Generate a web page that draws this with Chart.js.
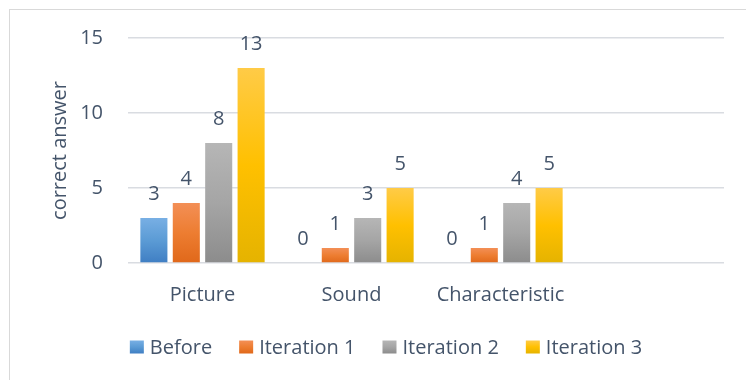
<!DOCTYPE html>
<html>
<head>
<meta charset="utf-8">
<script src="https://cdn.jsdelivr.net/npm/chart.js@4.4.1/dist/chart.umd.min.js"></script>
<style>
  html, body { margin: 0; padding: 0; background: #fff; overflow: hidden; }
  #wrap { position: relative; width: 746px; height: 380px; }
  #frame { position: absolute; left: 9px; top: 9px; width: 1000px; height: 1000px; border: 1px solid #D9D9D9; }
  canvas { position: absolute; left: 0; top: 0; }
</style>
</head>
<body>
<div id="wrap">
  <div id="frame"></div>
  <canvas id="chart" width="746" height="380"></canvas>
</div>
<script>
// Categories (the fourth slot is left blank on purpose)
const categories = ['Picture', 'Sound', 'Characteristic', ''];

// Correct answers per stage
const before     = [3, 0, 0, null];
const iteration1 = [4, 1, 1, null];
const iteration2 = [8, 3, 4, null];
const iteration3 = [13, 5, 5, null];

const seriesNames = ['Before', 'Iteration 1', 'Iteration 2', 'Iteration 3'];
const yTicks = [0, 5, 10, 15];

const TEXT = '#44546A';
const FONT = "'Open Sans', 'Noto Sans', sans-serif";

// light / base / dark stops for each series' vertical gradient
const palettes = [
  ['#78AFE4', '#5B9BD5', '#3F7EC3'],
  ['#F38F56', '#ED7D31', '#E0681A'],
  ['#B6B6B6', '#A5A5A5', '#8C8C8C'],
  ['#FFCB47', '#FFC000', '#E5B300']
];

function makeGradient(c, idx, top, bottom) {
  const [light, base, dark] = palettes[idx];
  const g = c.createLinearGradient(0, top, 0, bottom);
  g.addColorStop(0, light);
  g.addColorStop(0.5, base);
  g.addColorStop(1, dark);
  return g;
}

function gradientFill(idx) {
  const base = palettes[idx][1];
  return (ctx) => {
    if (ctx.type !== 'data') return base;
    const chart = ctx.chart;
    const y = chart.scales && chart.scales.y;
    if (!y || ctx.raw == null) return base;
    const top = y.getPixelForValue(ctx.raw);
    const bottom = y.getPixelForValue(0);
    if (!isFinite(top) || Math.abs(bottom - top) < 1) return base;
    return makeGradient(chart.ctx, idx, top, bottom);
  };
}

// value labels above each bar (zero values still get a "0")
const valueLabels = {
  id: 'valueLabels',
  afterDatasetsDraw(chart) {
    const c = chart.ctx;
    c.save();
    c.font = '20px ' + FONT;
    c.fillStyle = TEXT;
    c.textAlign = 'center';
    c.textBaseline = 'alphabetic';
    chart.data.datasets.forEach((ds, di) => {
      const meta = chart.getDatasetMeta(di);
      meta.data.forEach((bar, i) => {
        const v = ds.data[i];
        if (v == null) return;
        c.fillText(String(v), bar.x, bar.y - 18);
      });
    });
    c.restore();
  }
};

// compact legend row under the axis: small square, short gap, name
const bottomLegend = {
  id: 'bottomLegend',
  afterDraw(chart) {
    const c = chart.ctx;
    const box = 14, boxH = 13, gapText = 6, gapItem = 27;
    const centerX = 386, centerY = 347;
    c.save();
    c.font = '20px ' + FONT;
    const widths = chart.data.datasets.map(ds => c.measureText(ds.label).width);
    const total = widths.reduce((a, w) => a + box + gapText + w, 0) + gapItem * (widths.length - 1);
    let x = centerX - total / 2;
    c.textAlign = 'left';
    c.textBaseline = 'middle';
    chart.data.datasets.forEach((ds, i) => {
      const top = centerY - boxH / 2;
      c.fillStyle = makeGradient(c, i, top, top + boxH);
      c.fillRect(x, top, box, boxH);
      c.fillStyle = TEXT;
      c.fillText(ds.label, x + box + gapText, centerY + 1);
      x += box + gapText + widths[i] + gapItem;
    });
    c.restore();
  }
};

const seriesData = [before, iteration1, iteration2, iteration3];

new Chart(document.getElementById('chart'), {
  type: 'bar',
  data: {
    labels: categories,
    datasets: seriesData.map((d, i) => ({
      label: seriesNames[i],
      data: d,
      backgroundColor: gradientFill(i),
      borderWidth: 0,
      categoryPercentage: 0.87,
      barPercentage: 0.835
    }))
  },
  options: {
    responsive: false,
    animation: false,
    devicePixelRatio: 1,
    layout: { padding: { left: 48, right: 22, top: 38, bottom: 69 } },
    plugins: {
      tooltip: { enabled: false },
      legend: { display: false }
    },
    scales: {
      x: {
        grid: { display: false },
        border: { display: false },
        ticks: { color: TEXT, font: { family: FONT, size: 20 }, padding: 12, maxRotation: 0 },
        afterFit: (s) => { s.height = 48; }
      },
      y: {
        min: 0,
        max: 15,
        afterBuildTicks: (s) => { s.ticks = yTicks.map(v => ({ value: v })); },
        grid: { color: '#D9DCE1', lineWidth: 1.5, drawTicks: false },
        border: { display: false },
        ticks: { color: TEXT, font: { family: FONT, size: 20 }, padding: 25 },
        title: {
          display: true,
          text: 'correct answer',
          color: TEXT,
          font: { family: FONT, size: 20 },
          padding: { top: 0, bottom: 0 }
        },
        afterFit: (s) => { s.width = 80; }
      }
    }
  },
  plugins: [valueLabels, bottomLegend]
});
</script>
</body>
</html>
